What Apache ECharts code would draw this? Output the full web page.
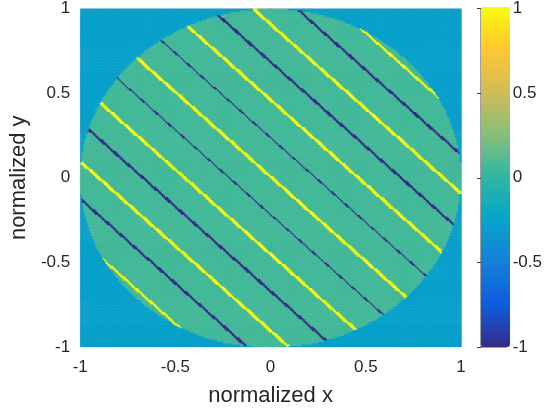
<!DOCTYPE html>
<html>
<head>
<meta charset="utf-8">
<script src="https://cdn.jsdelivr.net/npm/echarts@6/dist/echarts.min.js"></script>
<style>
  html, body { margin: 0; padding: 0; background: #fff; }
  #main { width: 545px; height: 416px; }
</style>
</head>
<body>
<div id="main"></div>
<script>
// field
var nx = 256, ny = 227;            // raster cells
var diskRadius = 1;
var diskValue = 0.06;
var backgroundValue = -0.28;
// diagonal stripes x + y = offset
var stripeOffsets = [-1.36, -1.12, -0.90, -0.667, -0.448, -0.214, 0.01, 0.24, 0.464, 0.688, 0.911, 1.14, 1.36];
var stripeValues  = [1, -1, 1, -1, 1, -1, 1, -1, 1, -1, 1, -1, 1];
var stripeWidths  = [0.018, 0.019, 0.023, 0.019, 0.023, 0.0105, 0.023, 0.0105, 0.023, 0.019, 0.023, 0.019, 0.018];
var tickValues = [-1, -0.5, 0, 0.5, 1];

var parula = ['#352a87', '#0f5cdd', '#1481d6', '#06a4ca', '#2eb7a4', '#87bf77', '#d1bb59', '#fec832', '#f9fb0e'];

var dx = 2 / nx, dy = 2 / ny;
var cells = [];
for (var j = 0; j < ny; j++) {
  var y = -1 + (j + 0.5) * dy;
  for (var i = 0; i < nx; i++) {
    var x = -1 + (i + 0.5) * dx;
    var v = backgroundValue;
    if (x * x + y * y <= diskRadius * diskRadius) {
      v = diskValue;
      for (var k = 0; k < stripeOffsets.length; k++) {
        if (Math.abs(x + y - stripeOffsets[k]) < stripeWidths[k] / 2) v = stripeValues[k];
      }
    }
    cells.push([x, y, v]);
  }
}

var txt = '#262626';
var font = 'Liberation Sans, Arial, sans-serif';

var chart = echarts.init(document.getElementById('main'));
chart.setOption({
  animation: false,
  textStyle: { fontFamily: font },
  grid: [
    { left: 77, top: 7, width: 384, height: 340, show: true, borderColor: '#d9d9d9', borderWidth: 1 },
    { left: 481, top: 7, width: 29, height: 340, show: true, borderColor: '#404040', borderWidth: 1 }
  ],
  xAxis: [
    { type: 'value', gridIndex: 0, min: -1, max: 1, interval: 0.5,
      axisLine: { show: true, lineStyle: { color: '#808080' } },
      axisTick: { show: false }, splitLine: { show: false },
      axisLabel: { fontSize: 17, color: txt, margin: 12, fontFamily: font },
      name: 'normalized x', nameLocation: 'middle', nameGap: 38,
      nameTextStyle: { fontSize: 22, color: txt, fontFamily: font } },
    { type: 'value', gridIndex: 1, min: 0, max: 1, show: false }
  ],
  yAxis: [
    { type: 'value', gridIndex: 0, min: -1, max: 1, interval: 0.5,
      axisLine: { show: true, lineStyle: { color: '#808080' } },
      axisTick: { show: false }, splitLine: { show: false },
      axisLabel: { fontSize: 17, color: txt, margin: 10, fontFamily: font },
      name: 'normalized y', nameLocation: 'middle', nameGap: 36,
      nameTextStyle: { fontSize: 22, color: txt, fontFamily: font } },
    { type: 'value', gridIndex: 1, min: -1, max: 1, interval: 0.5, position: 'right',
      axisLine: { show: true, lineStyle: { color: '#404040' } },
      axisTick: { show: true, inside: true, length: 4, lineStyle: { color: '#404040' } },
      splitLine: { show: false },
      axisLabel: { fontSize: 17, color: txt, margin: 6, fontFamily: font,
        formatter: function (v) { return tickValues.indexOf(v) >= 0 ? String(v) : ''; } } }
  ],
  visualMap: {
    type: 'continuous', min: -1, max: 1, seriesIndex: 0, dimension: 2,
    left: 481, top: 7, itemWidth: 29, itemHeight: 340, padding: 0,
    calculable: false, hoverLink: false, realtime: false,
    inRange: { color: parula }
  },
  series: [{
    type: 'custom', xAxisIndex: 0, yAxisIndex: 0,
    data: cells, progressive: 0, silent: true, clip: true,
    encode: { x: 0, y: 1 },
    renderItem: function (params, api) {
      var p = api.coord([api.value(0) - dx / 2, api.value(1) + dy / 2]);
      var s = api.size([dx, dy]);
      return {
        type: 'rect',
        shape: { x: p[0], y: p[1], width: s[0] + 0.6, height: s[1] + 0.6 },
        style: { fill: api.visual('color') }
      };
    }
  }]
});
</script>
</body>
</html>
